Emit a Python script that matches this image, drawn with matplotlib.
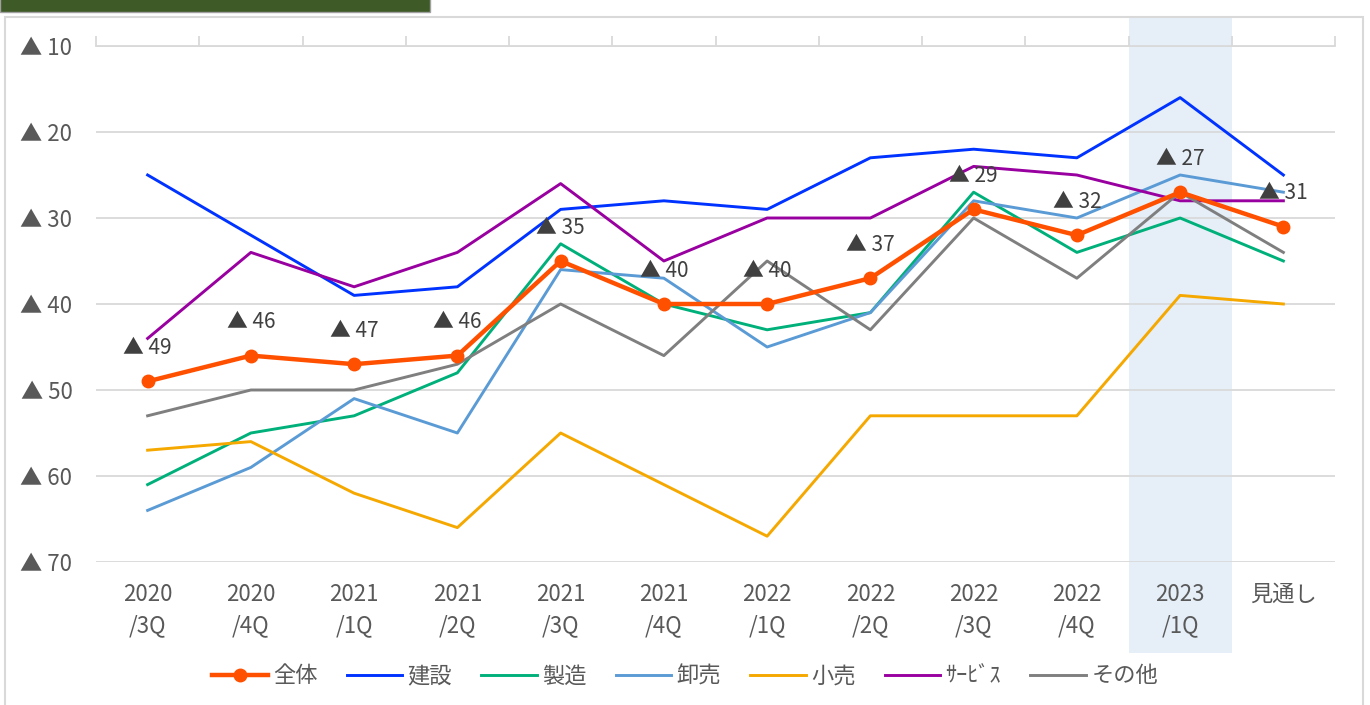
import matplotlib.pyplot as plt
from matplotlib.patches import Rectangle
import matplotlib.transforms as mtransforms

plt.rcParams['font.family'] = ['Noto Sans CJK JP', 'DejaVu Sans']

# categories (quarter labels)
categories = ['2020\n/3Q', '2020\n/4Q', '2021\n/1Q', '2021\n/2Q', '2021\n/3Q', '2021\n/4Q',
              '2022\n/1Q', '2022\n/2Q', '2022\n/3Q', '2022\n/4Q', '2023\n/1Q', '見通し']

# DI values (shown as ▲ = negative)
zentai = [49, 46, 47, 46, 35, 40, 40, 37, 29, 32, 27, 31]
kensetsu = [25, 32, 39, 38, 29, 28, 29, 23, 22, 23, 16, 25]
seizo = [61, 55, 53, 48, 33, 40, 43, 41, 27, 34, 30, 35]
oroshi = [64, 59, 51, 55, 36, 37, 45, 41, 28, 30, 25, 27]
kouri = [57, 56, 62, 66, 55, 61, 67, 53, 53, 53, 39, 40]
service = [44, 34, 38, 34, 26, 35, 30, 30, 24, 25, 28, 28]
sonota = [53, 50, 50, 47, 40, 46, 35, 43, 30, 37, 27, 34]

yticks = [10, 20, 30, 40, 50, 60, 70]
highlight_idx = 10

fig = plt.figure(figsize=(13.7, 7.05), dpi=100)

# outer frame and header bar
fig.patches.append(Rectangle((5 / 1370, -0.01), 1358 / 1370, 1 - 17 / 705 + 0.01,
                             transform=fig.transFigure, fill=False, ec='#d9d9d9', lw=1.5))
fig.patches.append(Rectangle((0, 1 - 12 / 705), 430 / 1370, 12 / 705 + 0.01,
                             transform=fig.transFigure, fc='#3d5a27', ec='#a0a0a0', lw=1))

ax = fig.add_axes([96 / 1370, 1 - 562 / 705, 1239 / 1370, 516 / 705])
x = list(range(len(categories)))

# highlighted quarter band
trans = mtransforms.blended_transform_factory(ax.transData, fig.transFigure)
ax.add_patch(Rectangle((highlight_idx - 0.5, 1 - 653 / 705), 1, (653 - 17) / 705,
                       transform=trans, fc='#e6eef8', ec='none', clip_on=False, zorder=0))

ax.plot(x, zentai, color='#ff5000', lw=3.2, marker='o', ms=9, label='全体', zorder=3)
ax.plot(x, kensetsu, color='#0033ff', lw=2.1, label='建設', zorder=2)
ax.plot(x, seizo, color='#00b07a', lw=2.1, label='製造', zorder=2)
ax.plot(x, oroshi, color='#5b9bd5', lw=2.1, label='卸売', zorder=2)
ax.plot(x, kouri, color='#f5a800', lw=2.1, label='小売', zorder=2)
ax.plot(x, service, color='#9900a0', lw=2.1, label='ｻｰﾋﾞｽ', zorder=2)
ax.plot(x, sonota, color='#7f7f7f', lw=2.1, label='その他', zorder=2)

for xi, v in zip(x, zentai):
    ax.annotate('▲ ' + str(v), (xi, v), xytext=(0, 24), textcoords='offset points',
                ha='center', va='center', fontsize=15, color='#404040', zorder=4)

ax.set_xlim(-0.5, 11.5)
ax.set_ylim(70, 10)
ax.set_yticks(yticks)
ax.set_yticklabels(['▲ ' + str(t) for t in yticks])
ax.set_xticks(x)
ax.set_xticklabels(categories)
ax.tick_params(axis='y', length=0, labelsize=16, labelcolor='#595959', pad=17)
ax.tick_params(axis='x', length=0, labelsize=16, labelcolor='#595959', pad=15)
for lab in ax.get_xticklabels():
    lab.set_linespacing(1.45)
    lab.set_verticalalignment('top')

# category boundary ticks on the top line
ax.set_xticks([i - 0.5 for i in range(len(categories) + 1)], minor=True)
ax.tick_params(axis='x', which='minor', top=True, bottom=False, direction='out',
               length=7, color='#d9d9d9', width=1.3)

ax.grid(axis='y', color='#d9d9d9', lw=1.3)
for s in ['left', 'right', 'bottom']:
    ax.spines[s].set_visible(False)
ax.spines['top'].set_color('#d9d9d9')
ax.spines['top'].set_linewidth(1.3)

fig.legend(loc='center', bbox_to_anchor=(0.5, 1 - 676 / 705), ncol=7, frameon=False,
           fontsize=16, labelcolor='#595959', handlelength=2.5, columnspacing=1.3,
           handletextpad=0.25)

fig.savefig('out.png', dpi=100)
